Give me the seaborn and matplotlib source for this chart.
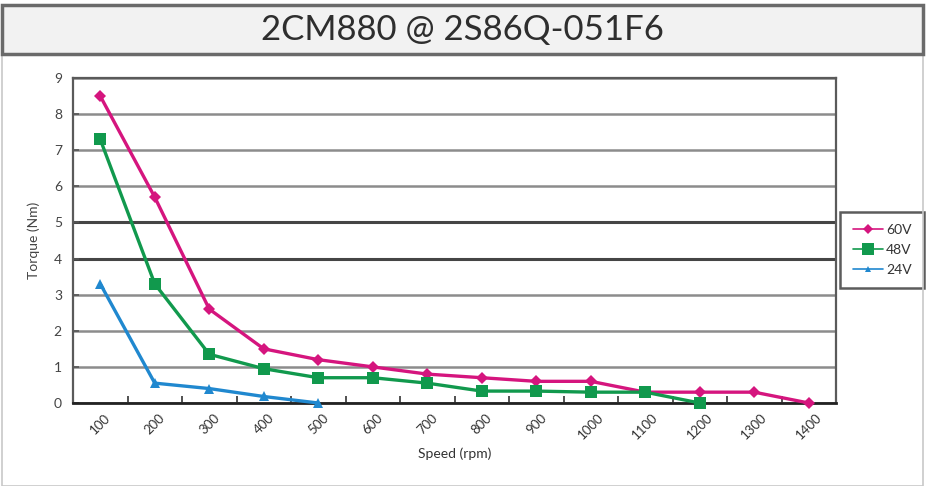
import matplotlib
matplotlib.use("Agg")
import matplotlib.pyplot as plt
from matplotlib.patches import Rectangle
import seaborn as sns
import pandas as pd
import numpy as np

speeds = [100, 200, 300, 400, 500, 600, 700, 800, 900, 1000, 1100, 1200, 1300, 1400]
torque_60v = [8.5, 5.7, 2.6, 1.5, 1.2, 1.0, 0.8, 0.7, 0.6, 0.6, 0.3, 0.3, 0.3, 0.0]
torque_48v = [7.3, 3.3, 1.35, 0.95, 0.7, 0.7, 0.55, 0.33, 0.33, 0.3, 0.3, 0.0]
torque_24v = [3.3, 0.55, 0.4, 0.18, 0.0]
series_names = ["60V", "48V", "24V"]
colors = {"60V": "#d5157e", "48V": "#11994d", "24V": "#2088cf"}
markers = {"60V": "D", "48V": "s", "24V": "^"}
title = "2CM880 @ 2S86Q-051F6"
x_label = "Speed (rpm)"
y_label = "Torque (Nm)"

rows = []
for name, vals in zip(series_names, [torque_60v, torque_48v, torque_24v]):
    for s, v in zip(speeds, vals):
        rows.append({"Speed": s, "Torque": v, "Voltage": name})
df = pd.DataFrame(rows)

sns.set_theme(style="white")
plt.rcParams['font.family'] = ['Lato', 'DejaVu Sans']

W, H = 926, 486
fig = plt.figure(figsize=(W / 100, H / 100), dpi=100)
fig.patch.set_facecolor("white")

# outer frame and title box
fig.add_artist(Rectangle((2 / W, 0), 921 / W, 1 - 5 / H, transform=fig.transFigure,
                         facecolor="none", edgecolor="#c8c8c8", lw=1.2))
fig.add_artist(Rectangle((2 / W, 1 - 54 / H), 921 / W, 49 / H, transform=fig.transFigure,
                         facecolor="#f2f2f2", edgecolor="#6a6a6a", lw=2.5))
fig.text(0.5 * (2 + 923) / W, 1 - 30 / H, title, ha="center", va="center",
         fontsize=25, color="#2e2e2e")

ax = fig.add_axes([73 / W, 1 - 403 / H, (836 - 73) / W, (403 - 78) / H])

sns.lineplot(data=df, x="Speed", y="Torque", hue="Voltage", style="Voltage",
             hue_order=series_names, style_order=series_names,
             palette=colors, markers=markers, dashes=False, ax=ax,
             linewidth=2.4, markersize=7, markeredgewidth=0)
for line in ax.get_lines():
    line.set_clip_on(False)
    line.set_zorder(5)
    if line.get_marker() == "D":
        line.set_markersize(6)
    elif line.get_marker() == "s":
        line.set_markersize(8)

ax.set_xlim(50, 1450)
ax.set_ylim(0, 9)
ax.set_xticks(speeds)
ax.set_xticklabels([str(s) for s in speeds], rotation=45, ha="center", fontsize=9.5, color="#333333")
ax.set_xticks([s + 50 for s in speeds[:-1]], minor=True)
ax.set_yticks(range(0, 10))
ax.set_yticklabels([str(i) for i in range(0, 10)], fontsize=10, color="#444444")
ax.tick_params(axis="x", which="major", length=0, pad=6)
ax.tick_params(axis="x", which="minor", direction="in", length=5, width=1.2, color="#333333", bottom=True)
ax.tick_params(axis="y", which="major", direction="in", length=4, width=1.2, color="#555555", left=True, pad=8)

ax.yaxis.grid(True, color="#8c8c8c", lw=1.8)
for val, gl in zip(range(0, 10), ax.get_ygridlines()):
    if val in (4, 5):
        gl.set_color("#454545")
        gl.set_linewidth(2.2)
ax.set_axisbelow(True)

for side, sp in ax.spines.items():
    sp.set_visible(True)
    sp.set_color("#5a5a5a")
    sp.set_linewidth(1.6)
    sp.set_zorder(2)
ax.spines["bottom"].set_color("#222222")
ax.spines["bottom"].set_linewidth(2)

ax.set_xlabel(x_label, fontsize=10, color="#333333", labelpad=4)
ax.set_ylabel(y_label, fontsize=10, color="#444444", labelpad=10)

leg = ax.legend(loc="center left", bbox_to_anchor=(840 / W, 1 - 250 / H),
                bbox_transform=fig.transFigure, frameon=True, fancybox=False,
                fontsize=10, handlelength=2.2, handletextpad=0.2, borderpad=0.9,
                labelspacing=0.55, borderaxespad=0)
leg.get_frame().set_edgecolor("#333333")
leg.get_frame().set_linewidth(1.8)
for t in leg.get_texts():
    t.set_color("#333333")
for h in leg.legend_handles:
    h.set_linewidth(1.2)
    if h.get_marker() in ("D", "^"):
        h.set_markersize(5)

fig.savefig("out.png", dpi=100)
